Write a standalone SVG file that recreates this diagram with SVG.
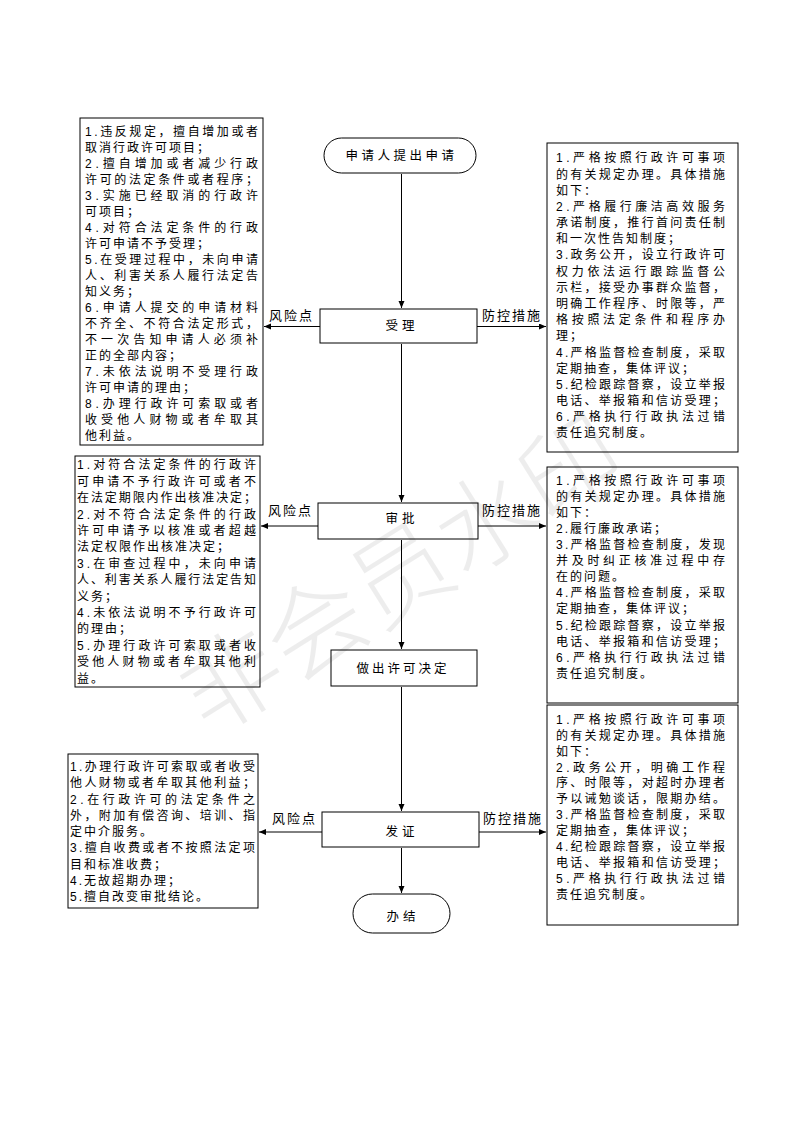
<svg xmlns="http://www.w3.org/2000/svg" width="793" height="1122" viewBox="0 0 793 1122">
<style>
.bx{fill:#fff;stroke:#000;stroke-width:1}
.t{font-family:'Liberation Sans','Noto Sans CJK SC',sans-serif;font-size:12px;letter-spacing:2px;fill:#000}
.c{font-family:'Liberation Sans','Noto Sans CJK SC',sans-serif;font-size:12.5px;fill:#000;text-anchor:middle;dominant-baseline:central}
.lbl{font-family:'Liberation Sans','Noto Sans CJK SC',sans-serif;font-size:13px;letter-spacing:2px;fill:#000}
.ln{stroke:#000;stroke-width:1;fill:none}
.wm{font-family:'Noto Sans CJK SC',sans-serif;font-size:100px;font-weight:300;fill:#000;fill-opacity:0.07;text-anchor:middle;dominant-baseline:central}
</style>
<defs>
<marker id="ah" markerUnits="userSpaceOnUse" markerWidth="8" markerHeight="7" refX="7" refY="3" orient="auto">
<path d="M0,0 L7,3 L0,6 z" fill="#000"/>
</marker>
</defs>
<rect width="793" height="1122" fill="#fff"/>

<g id="connectors">
<line class="ln" x1="401.5" y1="174" x2="401.5" y2="308" marker-end="url(#ah)"/>
<line class="ln" x1="401.5" y1="344" x2="401.5" y2="502" marker-end="url(#ah)"/>
<line class="ln" x1="401.5" y1="540" x2="401.5" y2="649" marker-end="url(#ah)"/>
<line class="ln" x1="401.5" y1="687" x2="401.5" y2="811" marker-end="url(#ah)"/>
<line class="ln" x1="401.5" y1="848" x2="401.5" y2="893" marker-end="url(#ah)"/>
<line class="ln" x1="320" y1="326.5" x2="264" y2="326.5" marker-end="url(#ah)"/>
<line class="ln" x1="477" y1="326.5" x2="546" y2="326.5" marker-end="url(#ah)"/>
<line class="ln" x1="318" y1="526" x2="261" y2="526" marker-end="url(#ah)"/>
<line class="ln" x1="478" y1="526" x2="546" y2="526" marker-end="url(#ah)"/>
<line class="ln" x1="322" y1="832" x2="259" y2="832" marker-end="url(#ah)"/>
<line class="ln" x1="479" y1="832" x2="546" y2="832" marker-end="url(#ah)"/>
<text class="lbl" x="269" y="319.5">风险点</text>
<text class="lbl" x="482" y="319.5">防控措施</text>
<text class="lbl" x="268" y="514.5">风险点</text>
<text class="lbl" x="482" y="514.5">防控措施</text>
<text class="lbl" x="272" y="822.5">风险点</text>
<text class="lbl" x="483" y="822.5">防控措施</text>
</g>

<g id="start">
<rect class="bx" x="324" y="138" width="152" height="35" rx="17.5"/>
<text class="c" x="401.5" y="155.5" letter-spacing="3.5">申请人提出申请</text>
</g>
<g id="shouli">
<rect class="bx" x="320" y="309" width="157" height="34"/>
<text class="c" x="402" y="326" letter-spacing="4">受理</text>
</g>
<g id="shenpi">
<rect class="bx" x="318" y="503" width="160" height="36"/>
<text class="c" x="402" y="518.5" letter-spacing="4">审批</text>
</g>
<g id="jueding">
<rect class="bx" x="331" y="650" width="146" height="36"/>
<text class="c" x="403" y="669" letter-spacing="3">做出许可决定</text>
</g>
<g id="fazheng">
<rect class="bx" x="322" y="812" width="157" height="35"/>
<text class="c" x="402" y="831.5" letter-spacing="4">发证</text>
</g>
<g id="end">
<rect class="bx" x="353" y="894" width="97" height="39" rx="19.5"/>
<text class="c" x="403" y="917" letter-spacing="4">办结</text>
</g>

<g id="risk1">
<rect class="bx" x="80" y="118" width="183" height="327"/>
<text class="t" x="85" y="136.3" textLength="175">1.违反规定，擅自增加或者</text>
<text class="t" x="85" y="152.3">取消行政许可项目；</text>
<text class="t" x="85" y="168.3" textLength="175">2.擅自增加或者减少行政</text>
<text class="t" x="85" y="184.3" textLength="175">许可的法定条件或者程序；</text>
<text class="t" x="85" y="200.3" textLength="175">3.实施已经取消的行政许</text>
<text class="t" x="85" y="216.3">可项目；</text>
<text class="t" x="85" y="232.3" textLength="175">4.对符合法定条件的行政</text>
<text class="t" x="85" y="248.3">许可申请不予受理；</text>
<text class="t" x="85" y="264.3" textLength="175">5.在受理过程中，未向申请</text>
<text class="t" x="85" y="280.3" textLength="175">人、利害关系人履行法定告</text>
<text class="t" x="85" y="296.3">知义务；</text>
<text class="t" x="85" y="312.3" textLength="175">6.申请人提交的申请材料</text>
<text class="t" x="85" y="328.3" textLength="175">不齐全、不符合法定形式，</text>
<text class="t" x="85" y="344.3" textLength="175">不一次告知申请人必须补</text>
<text class="t" x="85" y="360.3">正的全部内容；</text>
<text class="t" x="85" y="376.3" textLength="175">7.未依法说明不受理行政</text>
<text class="t" x="85" y="392.3">许可申请的理由；</text>
<text class="t" x="85" y="408.3" textLength="175">8.办理行政许可索取或者</text>
<text class="t" x="85" y="424.3" textLength="175">收受他人财物或者牟取其</text>
<text class="t" x="85" y="440.3">他利益。</text>
</g>

<g id="control1">
<rect class="bx" x="547" y="143" width="191" height="309"/>
<text class="t" x="556" y="162.3" textLength="171">1.严格按照行政许可事项</text>
<text class="t" x="556" y="178.5" textLength="171">的有关规定办理。具体措施</text>
<text class="t" x="556" y="194.7">如下：</text>
<text class="t" x="556" y="210.8" textLength="171">2.严格履行廉洁高效服务</text>
<text class="t" x="556" y="227" textLength="171">承诺制度，推行首问责任制</text>
<text class="t" x="556" y="243.2">和一次性告知制度；</text>
<text class="t" x="556" y="259.4" textLength="171">3.政务公开，设立行政许可</text>
<text class="t" x="556" y="275.6" textLength="171">权力依法运行跟踪监督公</text>
<text class="t" x="556" y="291.7" textLength="171">示栏，接受办事群众监督，</text>
<text class="t" x="556" y="307.9" textLength="171">明确工作程序、时限等，严</text>
<text class="t" x="556" y="324.1" textLength="171">格按照法定条件和程序办</text>
<text class="t" x="556" y="340.3">理；</text>
<text class="t" x="556" y="356.5" textLength="171">4.严格监督检查制度，采取</text>
<text class="t" x="556" y="372.6">定期抽查，集体评议；</text>
<text class="t" x="556" y="388.8" textLength="171">5.纪检跟踪督察，设立举报</text>
<text class="t" x="556" y="405" textLength="171">电话、举报箱和信访受理；</text>
<text class="t" x="556" y="421.2" textLength="171">6.严格执行行政执法过错</text>
<text class="t" x="556" y="437.4">责任追究制度。</text>
</g>

<g id="risk2">
<rect class="bx" x="75" y="456" width="185" height="231"/>
<text class="t" x="77" y="469.3" textLength="181">1.对符合法定条件的行政许</text>
<text class="t" x="77" y="485.7" textLength="181">可申请不予行政许可或者不</text>
<text class="t" x="77" y="502.1" textLength="181">在法定期限内作出核准决定；</text>
<text class="t" x="77" y="518.5" textLength="181">2.对不符合法定条件的行政</text>
<text class="t" x="77" y="534.9" textLength="181">许可申请予以核准或者超越</text>
<text class="t" x="77" y="551.3">法定权限作出核准决定；</text>
<text class="t" x="77" y="567.7" textLength="181">3.在审查过程中，未向申请</text>
<text class="t" x="77" y="584.1" textLength="181">人、利害关系人履行法定告知</text>
<text class="t" x="77" y="600.5">义务；</text>
<text class="t" x="77" y="616.9" textLength="181">4.未依法说明不予行政许可</text>
<text class="t" x="77" y="633.3">的理由；</text>
<text class="t" x="77" y="649.7" textLength="181">5.办理行政许可索取或者收</text>
<text class="t" x="77" y="666.1" textLength="181">受他人财物或者牟取其他利</text>
<text class="t" x="77" y="682.5">益。</text>
</g>

<g id="control2">
<rect class="bx" x="547" y="467" width="191" height="236"/>
<text class="t" x="556" y="484.6" textLength="171">1.严格按照行政许可事项</text>
<text class="t" x="556" y="500.7" textLength="171">的有关规定办理。具体措施</text>
<text class="t" x="556" y="516.8">如下：</text>
<text class="t" x="556" y="532.9">2.履行廉政承诺；</text>
<text class="t" x="556" y="549" textLength="171">3.严格监督检查制度，发现</text>
<text class="t" x="556" y="565.1" textLength="171">并及时纠正核准过程中存</text>
<text class="t" x="556" y="581.2">在的问题。</text>
<text class="t" x="556" y="597.3" textLength="171">4.严格监督检查制度，采取</text>
<text class="t" x="556" y="613.4">定期抽查，集体评议；</text>
<text class="t" x="556" y="629.5" textLength="171">5.纪检跟踪督察，设立举报</text>
<text class="t" x="556" y="645.6" textLength="171">电话、举报箱和信访受理；</text>
<text class="t" x="556" y="661.7" textLength="171">6.严格执行行政执法过错</text>
<text class="t" x="556" y="677.8">责任追究制度。</text>
</g>

<g id="risk3">
<rect class="bx" x="68" y="754" width="190" height="154"/>
<text class="t" x="70" y="771" textLength="187">1.办理行政许可索取或者收受</text>
<text class="t" x="70" y="787.3" textLength="187">他人财物或者牟取其他利益；</text>
<text class="t" x="70" y="803.5" textLength="187">2.在行政许可的法定条件之</text>
<text class="t" x="70" y="819.8" textLength="187">外，附加有偿咨询、培训、指</text>
<text class="t" x="70" y="836">定中介服务。</text>
<text class="t" x="70" y="852.3" textLength="187">3.擅自收费或者不按照法定项</text>
<text class="t" x="70" y="868.5">目和标准收费；</text>
<text class="t" x="70" y="884.8">4.无故超期办理；</text>
<text class="t" x="70" y="901">5.擅自改变审批结论。</text>
</g>

<g id="control3">
<rect class="bx" x="547" y="705" width="191" height="220"/>
<text class="t" x="556" y="723.6" textLength="171">1.严格按照行政许可事项</text>
<text class="t" x="556" y="739.6" textLength="171">的有关规定办理。具体措施</text>
<text class="t" x="556" y="755.5">如下：</text>
<text class="t" x="556" y="771.5" textLength="171">2.政务公开，明确工作程</text>
<text class="t" x="556" y="787.4" textLength="171">序、时限等，对超时办理者</text>
<text class="t" x="556" y="803.4" textLength="171">予以诫勉谈话，限期办结。</text>
<text class="t" x="556" y="819.3" textLength="171">3.严格监督检查制度，采取</text>
<text class="t" x="556" y="835.3">定期抽查，集体评议；</text>
<text class="t" x="556" y="851.2" textLength="171">4.纪检跟踪督察，设立举报</text>
<text class="t" x="556" y="867.2" textLength="171">电话、举报箱和信访受理；</text>
<text class="t" x="556" y="883.1" textLength="171">5.严格执行行政执法过错</text>
<text class="t" x="556" y="899.1">责任追究制度。</text>
</g>

<text class="wm" x="397" y="568" transform="rotate(-32 397 568)">非会员水印</text>
</svg>
